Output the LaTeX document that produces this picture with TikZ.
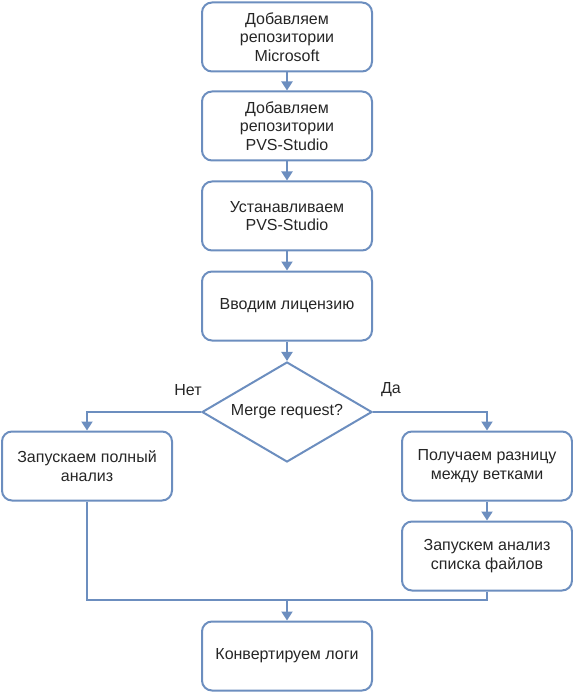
\documentclass[tikz,border=0pt]{standalone}
\usepackage{fontspec}
\setmainfont{Liberation Sans}
\usetikzlibrary{shapes.geometric,arrows.meta}
\definecolor{edge}{HTML}{6C8EBF}
\begin{document}
\begin{tikzpicture}[x=1pt,y=-1pt,
  txt/.style={font=\fontsize{16}{18.5}\selectfont,text=black!85},
  box/.style={txt,draw=edge,line width=2pt,rounded corners=10pt,minimum width=170pt,minimum height=69pt,align=center,inner sep=0pt},
  dec/.style={txt,draw=edge,line width=2pt,diamond,shape aspect=1.7,minimum width=170pt,minimum height=100pt,inner sep=0pt},
  conn/.style={draw=edge,line width=2pt,-{Triangle[length=9pt,width=11pt]}},
  line/.style={draw=edge,line width=2pt}]
\useasboundingbox (0,0) rectangle (572,692);
\node[box] (b1) at (287,37) {Добавляем\\репозитории\\Microsoft};
\node[box] (b2) at (287,126) {Добавляем\\репозитории\\PVS-Studio};
\node[box] (b3) at (287,216) {Устанавливаем\\PVS-Studio};
\node[box] (b4) at (287,306) {Вводим лицензию};
\node[dec] (d) at (287,412) {Merge request?};
\node[box] (l) at (87,466) {Запускаем полный\\анализ};
\node[box] (r1) at (487,466) {Получаем разницу\\между ветками};
\node[box] (r2) at (487,556) {Запускем анализ\\списка файлов};
\node[box] (e) at (287,656) {Конвертируем логи};
\coordinate (m) at (287,600);
\draw[conn] (b1) -- (b2);
\draw[conn] (b2) -- (b3);
\draw[conn] (b3) -- (b4);
\draw[conn] (b4) -- (d);
\draw[conn] (d.west) -| (l.north);
\draw[conn] (d.east) -| (r1.north);
\draw[conn] (r1) -- (r2);
\draw[line] (l.south) |- (m);
\draw[line] (r2.south) |- (m);
\draw[conn] (m) -- (e);
\node[txt] (no) at (188,390) {Нет};
\node[txt] (yes) at (391,390) {Да};
\end{tikzpicture}
\end{document}
